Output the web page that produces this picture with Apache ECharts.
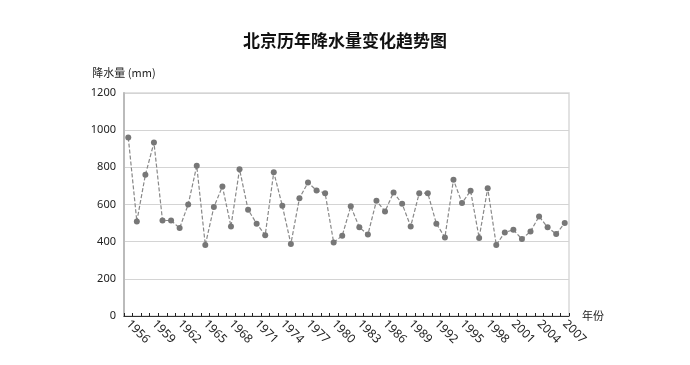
<!DOCTYPE html>
<html>
<head>
<meta charset="utf-8">
<script src="https://cdn.jsdelivr.net/npm/echarts@6/dist/echarts.min.js"></script>
<style>
html,body{margin:0;padding:0;background:#fff;}
#chart{width:690px;height:365px;}
</style>
</head>
<body>
<div id="chart"></div>
<script>
const years = ['1956','1957','1958','1959','1960','1961','1962','1963','1964','1965','1966','1967','1968','1969','1970','1971','1972','1973','1974','1975','1976','1977','1978','1979','1980','1981','1982','1983','1984','1985','1986','1987','1988','1989','1990','1991','1992','1993','1994','1995','1996','1997','1998','1999','2000','2001','2002','2003','2004','2005','2006','2007'];
const rainfall = [960,509,760,933,514,514,473,600,808,382,586,697,482,790,572,497,435,774,593,388,634,718,676,661,396,432,590,477,438,620,563,665,604,482,661,661,497,423,733,608,674,420,688,382,450,464,414,455,536,477,441,500];
const yTicks = {min:0, max:1200, interval:200};
const titleText = '北京历年降水量变化趋势图';
const yName = '降水量 (mm)';
const xName = '年份';

const chart = echarts.init(document.getElementById('chart'));
chart.setOption({
  animation:false,
  backgroundColor:'#fff',
  title:{
    text:titleText, left:'center', top:27,
    textStyle:{fontFamily:'Noto Sans CJK SC', fontSize:17, fontWeight:'bold', color:'#111'}
  },
  grid:{left:124, right:121, top:93, bottom:49, show:true, borderColor:'#d9d9d9', borderWidth:1.5, containLabel:false},
  xAxis:{
    type:'category', data:years, boundaryGap:true,
    name:xName, nameGap:13,
    nameTextStyle:{fontFamily:'Noto Sans CJK SC', fontSize:11, color:'#222', verticalAlign:'middle'},
    axisLine:{show:true, lineStyle:{color:'#333', width:1}},
    axisTick:{show:true, interval:0, inside:true, length:3, lineStyle:{color:'#222', width:1}},
    axisLabel:{interval:2, rotate:-45, margin:6, fontFamily:'Noto Sans', fontSize:12, color:'#222'},
    splitLine:{show:false}
  },
  yAxis:{
    type:'value', min:yTicks.min, max:yTicks.max, interval:yTicks.interval,
    name:yName, nameLocation:'end', nameGap:20,
    nameTextStyle:{fontFamily:'Noto Sans CJK SC', fontSize:11, color:'#222', align:'center', verticalAlign:'middle'},
    axisLine:{show:true, lineStyle:{color:'#bbb', width:2}},
    axisTick:{show:false},
    axisLabel:{margin:8, fontFamily:'Noto Sans', fontSize:11, color:'#222', formatter:function(v){return String(v);}},
    splitLine:{show:true, lineStyle:{color:'#d4d4d4', width:1.2}}
  },
  series:[{
    type:'line', data:rainfall,
    symbol:'circle', symbolSize:6, showAllSymbol:true,
    itemStyle:{color:'#777'},
    lineStyle:{color:'#888', width:1.2, type:[4,2]}
  }]
});
</script>
</body>
</html>
